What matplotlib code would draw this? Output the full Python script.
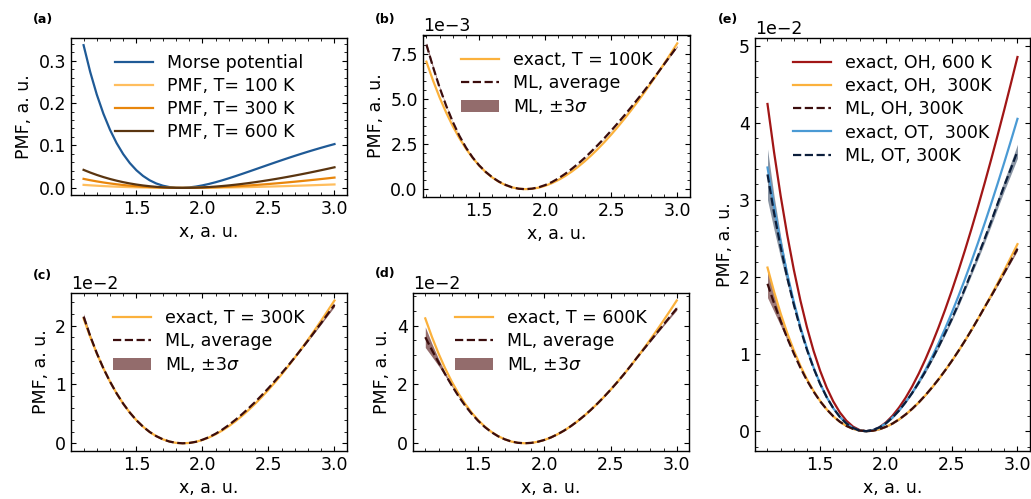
import numpy as np
import matplotlib
matplotlib.use('Agg')
import matplotlib.pyplot as plt
from matplotlib.ticker import MultipleLocator, AutoMinorLocator

# bond length grid, a. u.
x = [1.10, 1.15, 1.20, 1.25, 1.30, 1.35, 1.40, 1.45, 1.50, 1.55,
     1.60, 1.65, 1.70, 1.75, 1.80, 1.85, 1.90, 1.95, 2.00, 2.05,
     2.10, 2.15, 2.20, 2.25, 2.30, 2.35, 2.40, 2.45, 2.50, 2.55,
     2.60, 2.65, 2.70, 2.75, 2.80, 2.85, 2.90, 2.95, 3.00]

# Morse potential, a. u.
morse = [0.33640, 0.27343, 0.21997, 0.17486, 0.13703, 0.10556, 0.07962, 0.05850, 0.04154, 0.02820,
         0.01797, 0.01042, 0.00517, 0.00189, 0.00028, 0.00008, 0.00107, 0.00305, 0.00586, 0.00934,
         0.01336, 0.01782, 0.02261, 0.02765, 0.03288, 0.03823, 0.04364, 0.04908, 0.05450, 0.05988,
         0.06519, 0.07040, 0.07551, 0.08049, 0.08534, 0.09004, 0.09459, 0.09899, 0.10323]

# exact PMF, OH, 100 K  (units of 1e-3)
pmf_100 = [7.073, 6.029, 5.087, 4.244, 3.492, 2.827, 2.244, 1.739, 1.306, 0.942,
           0.643, 0.405, 0.225, 0.099, 0.025, 0.000, 0.020, 0.084, 0.189, 0.331,
           0.511, 0.724, 0.970, 1.247, 1.552, 1.885, 2.243, 2.625, 3.030, 3.457,
           3.904, 4.370, 4.855, 5.356, 5.874, 6.407, 6.954, 7.515, 8.088]
# exact PMF, OH, 300 K  (units of 1e-2)
pmf_300 = [2.122, 1.809, 1.526, 1.273, 1.048, 0.848, 0.673, 0.522, 0.392, 0.283,
           0.193, 0.122, 0.068, 0.030, 0.008, 0.000, 0.006, 0.025, 0.057, 0.099,
           0.153, 0.217, 0.291, 0.374, 0.466, 0.566, 0.673, 0.788, 0.909, 1.037,
           1.171, 1.311, 1.457, 1.607, 1.762, 1.922, 2.086, 2.255, 2.426]
# exact PMF, OH, 600 K  (units of 1e-2)
pmf_600 = [4.244, 3.617, 3.052, 2.546, 2.095, 1.696, 1.346, 1.043, 0.784, 0.565,
           0.386, 0.243, 0.135, 0.059, 0.015, 0.000, 0.012, 0.050, 0.113, 0.199,
           0.307, 0.434, 0.582, 0.748, 0.931, 1.131, 1.346, 1.575, 1.818, 2.074,
           2.342, 2.622, 2.913, 3.214, 3.524, 3.844, 4.172, 4.509, 4.853]
# exact PMF, OT, 300 K  (units of 1e-2)
pmf_ot = [3.420, 2.910, 2.452, 2.041, 1.676, 1.353, 1.070, 0.826, 0.617, 0.441,
          0.298, 0.185, 0.100, 0.042, 0.009, 0.000, 0.014, 0.048, 0.103, 0.177,
          0.268, 0.377, 0.501, 0.640, 0.794, 0.960, 1.140, 1.331, 1.533, 1.746,
          1.969, 2.202, 2.443, 2.693, 2.950, 3.215, 3.487, 3.766, 4.051]

# ML average and 3 sigma, panel (b), 100 K (1e-3)
ml_b = [8.023, 6.779, 5.637, 4.624, 3.732, 2.957, 2.304, 1.759, 1.316, 0.952,
        0.653, 0.415, 0.235, 0.099, 0.025, 0.000, 0.030, 0.104, 0.229, 0.391,
        0.601, 0.844, 1.120, 1.417, 1.742, 2.095, 2.463, 2.845, 3.250, 3.667,
        4.094, 4.540, 4.995, 5.456, 5.934, 6.427, 6.924, 7.425, 7.928]
sig3_b = [0.12, 0.08, 0.05, 0.03, 0.02, 0.015, 0.01, 0.01, 0.01, 0.01,
          0.01, 0.01, 0.01, 0.01, 0.01, 0.01, 0.01, 0.01, 0.01, 0.01,
          0.01, 0.01, 0.01, 0.01, 0.01, 0.01, 0.01, 0.01, 0.01, 0.01,
          0.01, 0.01, 0.01, 0.01, 0.015, 0.02, 0.025, 0.03, 0.04]
# panel (c), 300 K (1e-2)
ml_c = [2.152, 1.824, 1.531, 1.273, 1.048, 0.848, 0.673, 0.522, 0.392, 0.283,
        0.193, 0.122, 0.068, 0.030, 0.008, 0.000, 0.006, 0.025, 0.060, 0.105,
        0.163, 0.232, 0.311, 0.399, 0.494, 0.596, 0.703, 0.818, 0.937, 1.062,
        1.191, 1.323, 1.461, 1.602, 1.747, 1.897, 2.046, 2.200, 2.351]
sig3_c = [0.05, 0.03, 0.015, 0.008, 0.005, 0.004, 0.004, 0.004, 0.004, 0.004,
          0.004, 0.004, 0.004, 0.004, 0.004, 0.004, 0.004, 0.004, 0.004, 0.004,
          0.004, 0.004, 0.004, 0.004, 0.004, 0.004, 0.004, 0.004, 0.004, 0.004,
          0.004, 0.004, 0.004, 0.006, 0.01, 0.015, 0.02, 0.025, 0.03]
# panel (d), 600 K (1e-2)
ml_d = [3.604, 3.167, 2.752, 2.346, 1.965, 1.606, 1.286, 1.003, 0.759, 0.550,
        0.376, 0.238, 0.135, 0.059, 0.015, 0.000, 0.012, 0.050, 0.113, 0.199,
        0.307, 0.434, 0.582, 0.748, 0.931, 1.131, 1.346, 1.575, 1.818, 2.074,
        2.342, 2.622, 2.913, 3.194, 3.474, 3.754, 4.032, 4.309, 4.583]
sig3_d = [0.35, 0.22, 0.12, 0.06, 0.03, 0.02, 0.015, 0.01, 0.01, 0.01,
          0.01, 0.01, 0.01, 0.01, 0.01, 0.01, 0.01, 0.01, 0.01, 0.01,
          0.01, 0.01, 0.01, 0.01, 0.01, 0.01, 0.01, 0.01, 0.01, 0.01,
          0.01, 0.01, 0.01, 0.015, 0.02, 0.03, 0.04, 0.05, 0.06]
# panel (e), ML OH and OT at 300 K (1e-2)
ml_oh = [1.912, 1.659, 1.426, 1.208, 1.008, 0.823, 0.658, 0.514, 0.388, 0.283,
         0.193, 0.122, 0.068, 0.030, 0.008, 0.000, 0.006, 0.025, 0.057, 0.099,
         0.153, 0.217, 0.291, 0.374, 0.466, 0.566, 0.673, 0.788, 0.909, 1.037,
         1.171, 1.311, 1.457, 1.607, 1.752, 1.902, 2.056, 2.210, 2.366]
sig3_oh = [0.18, 0.11, 0.06, 0.03, 0.015, 0.01, 0.008, 0.008, 0.008, 0.008,
           0.008, 0.008, 0.008, 0.008, 0.008, 0.008, 0.008, 0.008, 0.008, 0.008,
           0.008, 0.008, 0.008, 0.008, 0.008, 0.008, 0.008, 0.008, 0.008, 0.008,
           0.008, 0.008, 0.008, 0.008, 0.01, 0.012, 0.015, 0.02, 0.025]
ml_ot = [3.330, 2.830, 2.387, 1.991, 1.641, 1.328, 1.055, 0.818, 0.613, 0.441,
         0.298, 0.185, 0.100, 0.042, 0.009, 0.000, 0.014, 0.048, 0.103, 0.177,
         0.268, 0.377, 0.496, 0.630, 0.774, 0.930, 1.095, 1.271, 1.453, 1.646,
         1.849, 2.062, 2.273, 2.493, 2.720, 2.955, 3.187, 3.406, 3.631]
sig3_ot = [0.33, 0.22, 0.14, 0.08, 0.05, 0.03, 0.02, 0.015, 0.012, 0.01,
           0.01, 0.01, 0.01, 0.01, 0.01, 0.01, 0.01, 0.01, 0.01, 0.01,
           0.01, 0.01, 0.012, 0.014, 0.016, 0.018, 0.02, 0.023, 0.026, 0.03,
           0.034, 0.038, 0.043, 0.048, 0.054, 0.06, 0.068, 0.078, 0.09]

x = np.array(x)

plt.rcParams['font.size'] = 12.5
plt.rcParams['axes.linewidth'] = 1.0

c_morse = '#1f5a96'
c_100, c_300, c_600 = '#ffbe5e', '#e8860c', '#5a3510'
c_exact = '#fbb13c'
c_ml = '#3b0d0d'
c_band = '#5a1e1e'
c_red = '#a11616'
c_ot = '#4a9ad4'
c_mlot = '#0b1e3b'

fig = plt.figure(figsize=(10.31, 4.99), dpi=100)
ax_a = fig.add_axes([0.0689, 0.6092, 0.2677, 0.3146])
ax_b = fig.add_axes([0.4100, 0.6058, 0.2593, 0.3240])
ax_c = fig.add_axes([0.0689, 0.0968, 0.2677, 0.3154])
ax_d = fig.add_axes([0.4003, 0.0968, 0.2683, 0.3154])
ax_e = fig.add_axes([0.7323, 0.0968, 0.2667, 0.8265])

lw = 1.6
leg_kw = dict(loc='upper center', frameon=False, labelspacing=0.3, handlelength=2.2)

#(a) Morse potential and PMFs
ax_a.plot(x, morse, color=c_morse, lw=lw, label='Morse potential')
ax_a.plot(x, np.array(pmf_100) * 1e-3, color=c_100, lw=lw, label='PMF, T= 100 K')
ax_a.plot(x, np.array(pmf_300) * 1e-2, color=c_300, lw=lw, label='PMF, T= 300 K')
ax_a.plot(x, np.array(pmf_600) * 1e-2, color=c_600, lw=lw, label='PMF, T= 600 K')
ax_a.legend(**leg_kw)
ax_a.yaxis.set_major_locator(MultipleLocator(0.1))


def ml_panel(ax, exact, ml, sig3, scale, temp):
    exact = np.array(exact) * scale
    ml = np.array(ml) * scale
    sig3 = np.array(sig3) * scale
    ax.fill_between(x, ml - sig3, ml + sig3, color=c_band, alpha=0.65, lw=0,
                    label=r'ML, $\pm3\sigma$', zorder=1)
    ax.plot(x, exact, color=c_exact, lw=lw, label='exact, T = %s' % temp, zorder=2)
    ax.plot(x, ml, color=c_ml, lw=lw, ls='--', label='ML, average', zorder=3)
    h, l = ax.get_legend_handles_labels()
    order = [1, 2, 0]
    ax.legend([h[i] for i in order], [l[i] for i in order], **leg_kw)


ml_panel(ax_b, pmf_100, ml_b, sig3_b, 1e-3, '100K')
ax_b.yaxis.set_major_locator(MultipleLocator(2.5e-3))
ax_b.set_xlim(1.072, 3.097)
ml_panel(ax_c, pmf_300, ml_c, sig3_c, 1e-2, '300K')
ax_c.yaxis.set_major_locator(MultipleLocator(1e-2))
ml_panel(ax_d, pmf_600, ml_d, sig3_d, 1e-2, '600K')
ax_d.yaxis.set_major_locator(MultipleLocator(2e-2))

#(e) OH vs OT
s = 1e-2
ax_e.fill_between(x, (np.array(ml_oh) - sig3_oh) * s, (np.array(ml_oh) + sig3_oh) * s,
                  color=c_band, alpha=0.6, lw=0, zorder=1)
ax_e.fill_between(x, (np.array(ml_ot) - sig3_ot) * s, (np.array(ml_ot) + sig3_ot) * s,
                  color='#2b3f5a', alpha=0.55, lw=0, zorder=1)
ax_e.plot(x, np.array(pmf_600) * s, color=c_red, lw=lw, label='exact, OH, 600 K', zorder=2)
ax_e.plot(x, np.array(pmf_300) * s, color=c_exact, lw=lw, label='exact, OH,  300K', zorder=2)
ax_e.plot(x, np.array(ml_oh) * s, color=c_ml, lw=lw, ls='--', label='ML, OH, 300K', zorder=3)
ax_e.plot(x, np.array(pmf_ot) * s, color=c_ot, lw=lw, label='exact, OT,  300K', zorder=2)
ax_e.plot(x, np.array(ml_ot) * s, color=c_mlot, lw=lw, ls='--', label='ML, OT, 300K', zorder=3)
ax_e.legend(**leg_kw)
ax_e.yaxis.set_major_locator(MultipleLocator(1e-2))

for ax in [ax_a, ax_b, ax_c, ax_d, ax_e]:
    ax.xaxis.set_major_locator(MultipleLocator(0.5))
    ax.xaxis.set_minor_locator(AutoMinorLocator())
    ax.yaxis.set_minor_locator(AutoMinorLocator())
    ax.tick_params(which='both', direction='in', top=True, right=True)
    ax.set_xlabel('x, a. u.')
    ax.set_ylabel('PMF, a. u.')
    if ax is not ax_a:
        ax.ticklabel_format(axis='y', style='sci', scilimits=(0, 0))

for lab, px, py in [('(a)', 33, 20), ('(b)', 375, 20), ('(c)', 33, 275),
                    ('(d)', 375, 274), ('(e)', 718, 20)]:
    fig.text(px / 1031, 1 - py / 499, lab, fontsize=9, fontweight='bold',
             ha='left', va='center')

fig.savefig('out.png', dpi=100)
